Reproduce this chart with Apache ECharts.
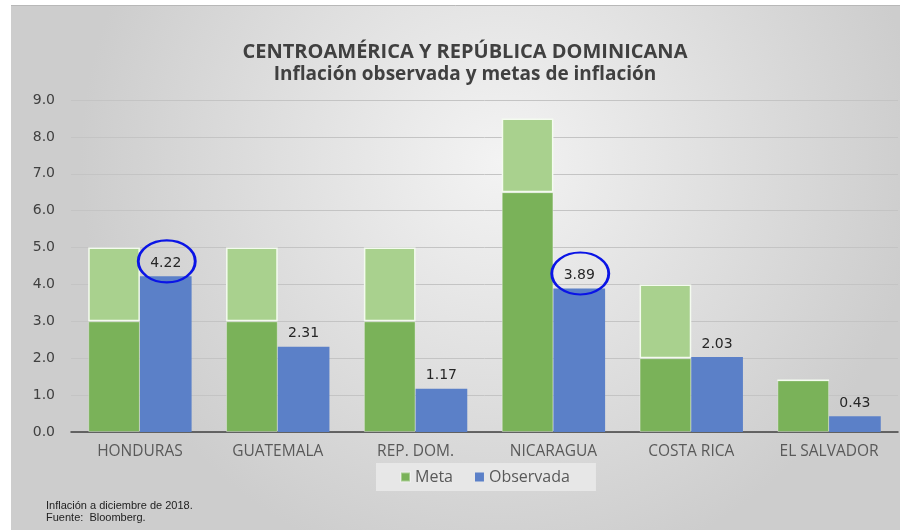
<!DOCTYPE html>
<html>
<head>
<meta charset="utf-8">
<script src="https://cdn.jsdelivr.net/npm/echarts@6/dist/echarts.min.js"></script>
<style>
  html, body { margin: 0; padding: 0; background: #fff; }
  #main { width: 900px; height: 530px; }
</style>
</head>
<body>
<div id="main"></div>
<script>
// datos
var paises = ["HONDURAS", "GUATEMALA", "REP. DOM.", "NICARAGUA", "COSTA RICA", "EL SALVADOR"];
var metaBase = [3.0, 3.0, 3.0, 6.5, 2.0, 1.4];     // limite inferior de la meta
var metaRango = [2.0, 2.0, 2.0, 2.0, 2.0, 0];      // hasta el limite superior
var observada = [4.22, 2.31, 1.17, 3.89, 2.03, 0.43];
var yTicks = [0, 1, 2, 3, 4, 5, 6, 7, 8, 9];
var resaltados = [0, 3]; // valores marcados con circulo azul

var myChart = echarts.init(document.getElementById('main'));

var elipse = 'path://M0,10 A10,10 0 1,1 20,10 A10,10 0 1,1 0,10 Z';

var option = {
    backgroundColor: '#ffffff',
    animation: false,
    graphic: [
        {
            type: 'rect',
            z: -1,
            silent: true,
            shape: { x: 11, y: 5, width: 889, height: 525 },
            style: {
                fill: {
                    type: 'radial', x: 0.55, y: 0.3, r: 0.8,
                    colorStops: [{ offset: 0, color: '#f3f3f3' }, { offset: 1, color: '#cdcdcd' }]
                }
            }
        },
        {
            type: 'line',
            z: -1,
            silent: true,
            shape: { x1: 11, y1: 5.5, x2: 900, y2: 5.5 },
            style: { stroke: '#b8b8b8', lineWidth: 1 }
        },
        {
            type: 'text',
            left: 46,
            top: 500,
            style: {
                text: 'Inflación a diciembre de 2018.\nFuente:  Bloomberg.',
                font: '11px "Liberation Sans"',
                fill: '#222',
                lineHeight: 12
            }
        }
    ],
    title: [
        {
            text: 'CENTROAMÉRICA Y REPÚBLICA DOMINICANA',
            left: 460,
            top: 37,
            textAlign: 'center',
            textStyle: { fontFamily: 'Open Sans', fontWeight: 'bold', fontSize: 20, color: '#404040' }
        },
        {
            text: 'Inflación observada y metas de inflación',
            left: 460,
            top: 60,
            textAlign: 'center',
            textStyle: { fontFamily: 'Open Sans', fontWeight: 'bold', fontSize: 19, color: '#404040' }
        }
    ],
    legend: {
        data: ['Meta', 'Observada'],
        left: 376,
        top: 463,
        backgroundColor: '#e7e7e7',
        padding: [6, 26, 6, 24],
        itemWidth: 9,
        itemHeight: 9,
        itemGap: 22,
        icon: 'rect',
        textStyle: { fontFamily: 'Open Sans', fontSize: 16, color: '#595959' }
    },
    grid: { left: 71, right: 2, top: 100, bottom: 98, containLabel: false },
    xAxis: {
        type: 'category',
        data: paises,
        axisLine: { lineStyle: { color: '#404040', width: 1.5 } },
        axisTick: { show: false },
        axisLabel: { fontFamily: 'Open Sans', fontSize: 15.5, color: '#595959', margin: 12 }
    },
    yAxis: {
        type: 'value',
        min: yTicks[0],
        max: yTicks[yTicks.length - 1],
        interval: 1,
        axisLine: { show: false },
        axisTick: { show: false },
        axisLabel: {
            fontFamily: 'DejaVu Sans', fontSize: 14, color: '#404040', margin: 16,
            formatter: function (v) { return v.toFixed(1); }
        },
        splitLine: { lineStyle: { color: '#c4c4c4', width: 1 } }
    },
    series: [
        {
            name: 'Meta',
            type: 'bar',
            stack: 'meta',
            data: metaBase,
            barGap: '0%',
            barCategoryGap: '25%',
            itemStyle: { color: '#7ab259', borderColor: 'rgba(255,255,255,0.35)', borderWidth: 1 }
        },
        {
            name: 'Rango',
            type: 'bar',
            stack: 'meta',
            data: metaRango,
            itemStyle: { color: '#a9d18e', borderColor: '#f4fbef', borderWidth: 1.5 }
        },
        {
            name: 'Observada',
            type: 'bar',
            data: observada,
            itemStyle: { color: '#5b80c8' },
            label: {
                show: true,
                position: 'top',
                distance: 6,
                fontFamily: 'DejaVu Sans',
                fontSize: 14,
                color: '#262626',
                formatter: function (p) { return p.value.toFixed(2); }
            },
            markPoint: {
                symbol: elipse,
                symbolSize: [57, 42],
                label: { show: false },
                itemStyle: { color: 'rgba(0,0,0,0)', borderColor: '#0a14e6', borderWidth: 2.5 },
                data: resaltados.map(function (i) {
                    return { coord: [i, observada[i]], symbolOffset: [1, -15] };
                })
            }
        }
    ]
};

myChart.setOption(option);
</script>
</body>
</html>
